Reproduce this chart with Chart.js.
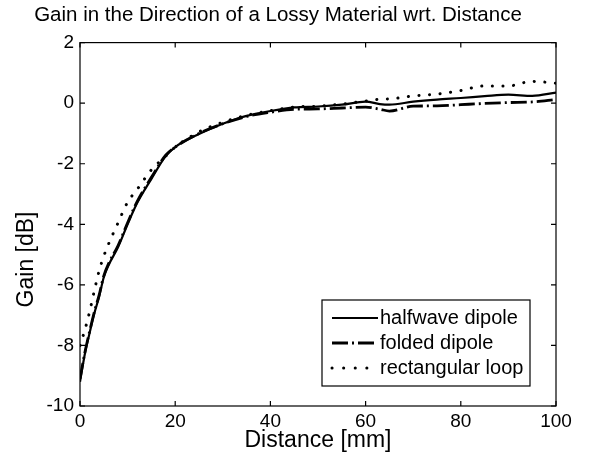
<!DOCTYPE html>
<html>
<head>
<meta charset="utf-8">
<script src="https://cdn.jsdelivr.net/npm/chart.js@4.4.1/dist/chart.umd.min.js"></script>
<style>
  html, body { margin: 0; padding: 0; background: #fff; }
  #wrap { width: 616px; height: 464px; }
</style>
</head>
<body>
<div id="wrap"><canvas id="gainChart" width="616" height="464"></canvas></div>
<script>
// distance samples [mm]
const distance = [0, 1, 2, 3, 4, 5, 6, 8, 10, 12, 15, 18, 20, 25, 30, 35, 40, 45, 50, 55, 60, 63, 65, 70, 75, 80, 85, 90, 95, 100];

// gain [dB]
const halfwave = [-9.2, -8.3, -7.6, -6.95, -6.4, -5.75, -5.35, -4.75, -4.0, -3.3, -2.5, -1.75, -1.45, -1.02, -0.68, -0.42, -0.26, -0.14, -0.11, -0.05, 0.05, -0.03, -0.05, 0.05, 0.12, 0.17, 0.23, 0.28, 0.24, 0.35];
const folded = [-9.1, -8.25, -7.55, -6.9, -6.35, -5.7, -5.3, -4.7, -3.95, -3.25, -2.45, -1.72, -1.45, -1.0, -0.68, -0.44, -0.3, -0.2, -0.19, -0.16, -0.13, -0.2, -0.26, -0.1, -0.09, -0.05, -0.01, 0.02, 0.04, 0.12];
const rectLoop = [-8.0, -7.5, -6.9, -6.2, -5.55, -5.05, -4.65, -3.95, -3.27, -2.85, -2.2, -1.75, -1.45, -0.95, -0.63, -0.4, -0.25, -0.13, -0.1, -0.03, 0.07, 0.13, 0.14, 0.24, 0.3, 0.42, 0.57, 0.57, 0.72, 0.66];

const seriesNames = ["halfwave dipole", "folded dipole", "rectangular loop"];

const FONT = "'Liberation Sans', Arial, Helvetica, sans-serif";

function pts(arr) {
	return distance.map((d, i) => ({ x: d, y: arr[i] }));
}

// box round the plot with inward ticks, like the original
const frameTicks = {
	id: "frameTicks",
	afterDatasetsDraw(chart) {
		const { ctx, chartArea: a, scales: { x, y } } = chart;
		ctx.save();
		ctx.strokeStyle = "#000";
		ctx.lineWidth = 1.2;
		ctx.strokeRect(a.left, a.top, a.right - a.left, a.bottom - a.top);
		ctx.beginPath();
		x.ticks.forEach(t => {
			const px = x.getPixelForValue(t.value);
			ctx.moveTo(px, a.bottom); ctx.lineTo(px, a.bottom - 5);
			ctx.moveTo(px, a.top); ctx.lineTo(px, a.top + 5);
		});
		y.ticks.forEach(t => {
			const py = y.getPixelForValue(t.value);
			ctx.moveTo(a.left, py); ctx.lineTo(a.left + 5, py);
			ctx.moveTo(a.right, py); ctx.lineTo(a.right - 5, py);
		});
		ctx.stroke();
		ctx.restore();
	}
};

// legend box in the lower right corner of the plot
const boxLegend = {
	id: "boxLegend",
	afterDraw(chart) {
		const { ctx, chartArea: a } = chart;
		const left = a.right - 234, top = a.bottom - 106;
		const w = 208, h = 86;
		ctx.save();
		ctx.fillStyle = "#fff";
		ctx.fillRect(left, top, w, h);
		ctx.strokeStyle = "#000";
		ctx.lineWidth = 1.2;
		ctx.strokeRect(left, top, w, h);
		ctx.font = "20px " + FONT;
		ctx.textBaseline = "middle";
		ctx.fillStyle = "#000";
		chart.data.datasets.forEach((ds, i) => {
			const yy = top + 18 + i * 25;
			ctx.save();
			ctx.strokeStyle = ds.borderColor;
			ctx.lineWidth = ds.borderWidth;
			ctx.lineCap = ds.borderCapStyle || "butt";
			ctx.setLineDash(ds.legendDash || ds.borderDash || []);
			ctx.beginPath();
			ctx.moveTo(left + 10, yy);
			ctx.lineTo(left + 56, yy);
			ctx.stroke();
			ctx.restore();
			ctx.fillText(ds.label, left + 58, yy);
		});
		ctx.restore();
	}
};

new Chart(document.getElementById("gainChart"), {
	type: "line",
	data: {
		datasets: [
			{
				label: seriesNames[0],
				data: pts(halfwave),
				borderColor: "#000",
				borderWidth: 2.2,
				pointRadius: 0,
				cubicInterpolationMode: "monotone"
			},
			{
				label: seriesNames[1],
				data: pts(folded),
				borderColor: "#000",
				borderWidth: 2.8,
				borderDash: [16, 4, 2, 4],
				legendDash: [16, 4, 2, 4],
				pointRadius: 0,
				cubicInterpolationMode: "monotone"
			},
			{
				label: seriesNames[2],
				data: pts(rectLoop),
				borderColor: "#000",
				borderWidth: 3,
				borderDash: [0.1, 10.5],
				legendDash: [0.1, 11.5],
				borderCapStyle: "round",
				pointRadius: 0,
				cubicInterpolationMode: "monotone"
			}
		]
	},
	options: {
		responsive: false,
		devicePixelRatio: 1,
		animation: false,
		layout: { padding: { left: 0, right: 60, top: 0, bottom: 0 } },
		plugins: {
			legend: { display: false },
			tooltip: { enabled: false },
			title: {
				display: true,
				text: "Gain in the Direction of a Lossy Material wrt. Distance",
				color: "#000",
				font: { family: FONT, size: 20.5, weight: "normal" },
				padding: { top: 3, bottom: 15 }
			}
		},
		scales: {
			x: {
				type: "linear",
				min: 0,
				max: 100,
				grid: { display: false, drawTicks: false },
				border: { display: false },
				ticks: { stepSize: 20, color: "#000", padding: 4, font: { family: FONT, size: 19 } },
				title: {
					display: true,
					text: "Distance [mm]",
					color: "#000",
					font: { family: FONT, size: 23 },
					padding: { top: 0, bottom: 10 }
				},
				afterFit(scale) { scale.height = 58; }
			},
			y: {
				type: "linear",
				min: -10,
				max: 2,
				grid: { display: false, drawTicks: false },
				border: { display: false },
				ticks: { stepSize: 2, color: "#000", padding: 6, font: { family: FONT, size: 19 } },
				title: {
					display: true,
					// trailing spaces push the label down, as in the original
					text: "Gain [dB]\u00a0\u00a0\u00a0\u00a0\u00a0\u00a0\u00a0\u00a0\u00a0\u00a0\u00a0",
					color: "#000",
					font: { family: FONT, size: 23 },
					padding: { top: 13, bottom: 0 }
				},
				afterFit(scale) { scale.width = 80; }
			}
		}
	},
	plugins: [frameTicks, boxLegend]
});
</script>
</body>
</html>
